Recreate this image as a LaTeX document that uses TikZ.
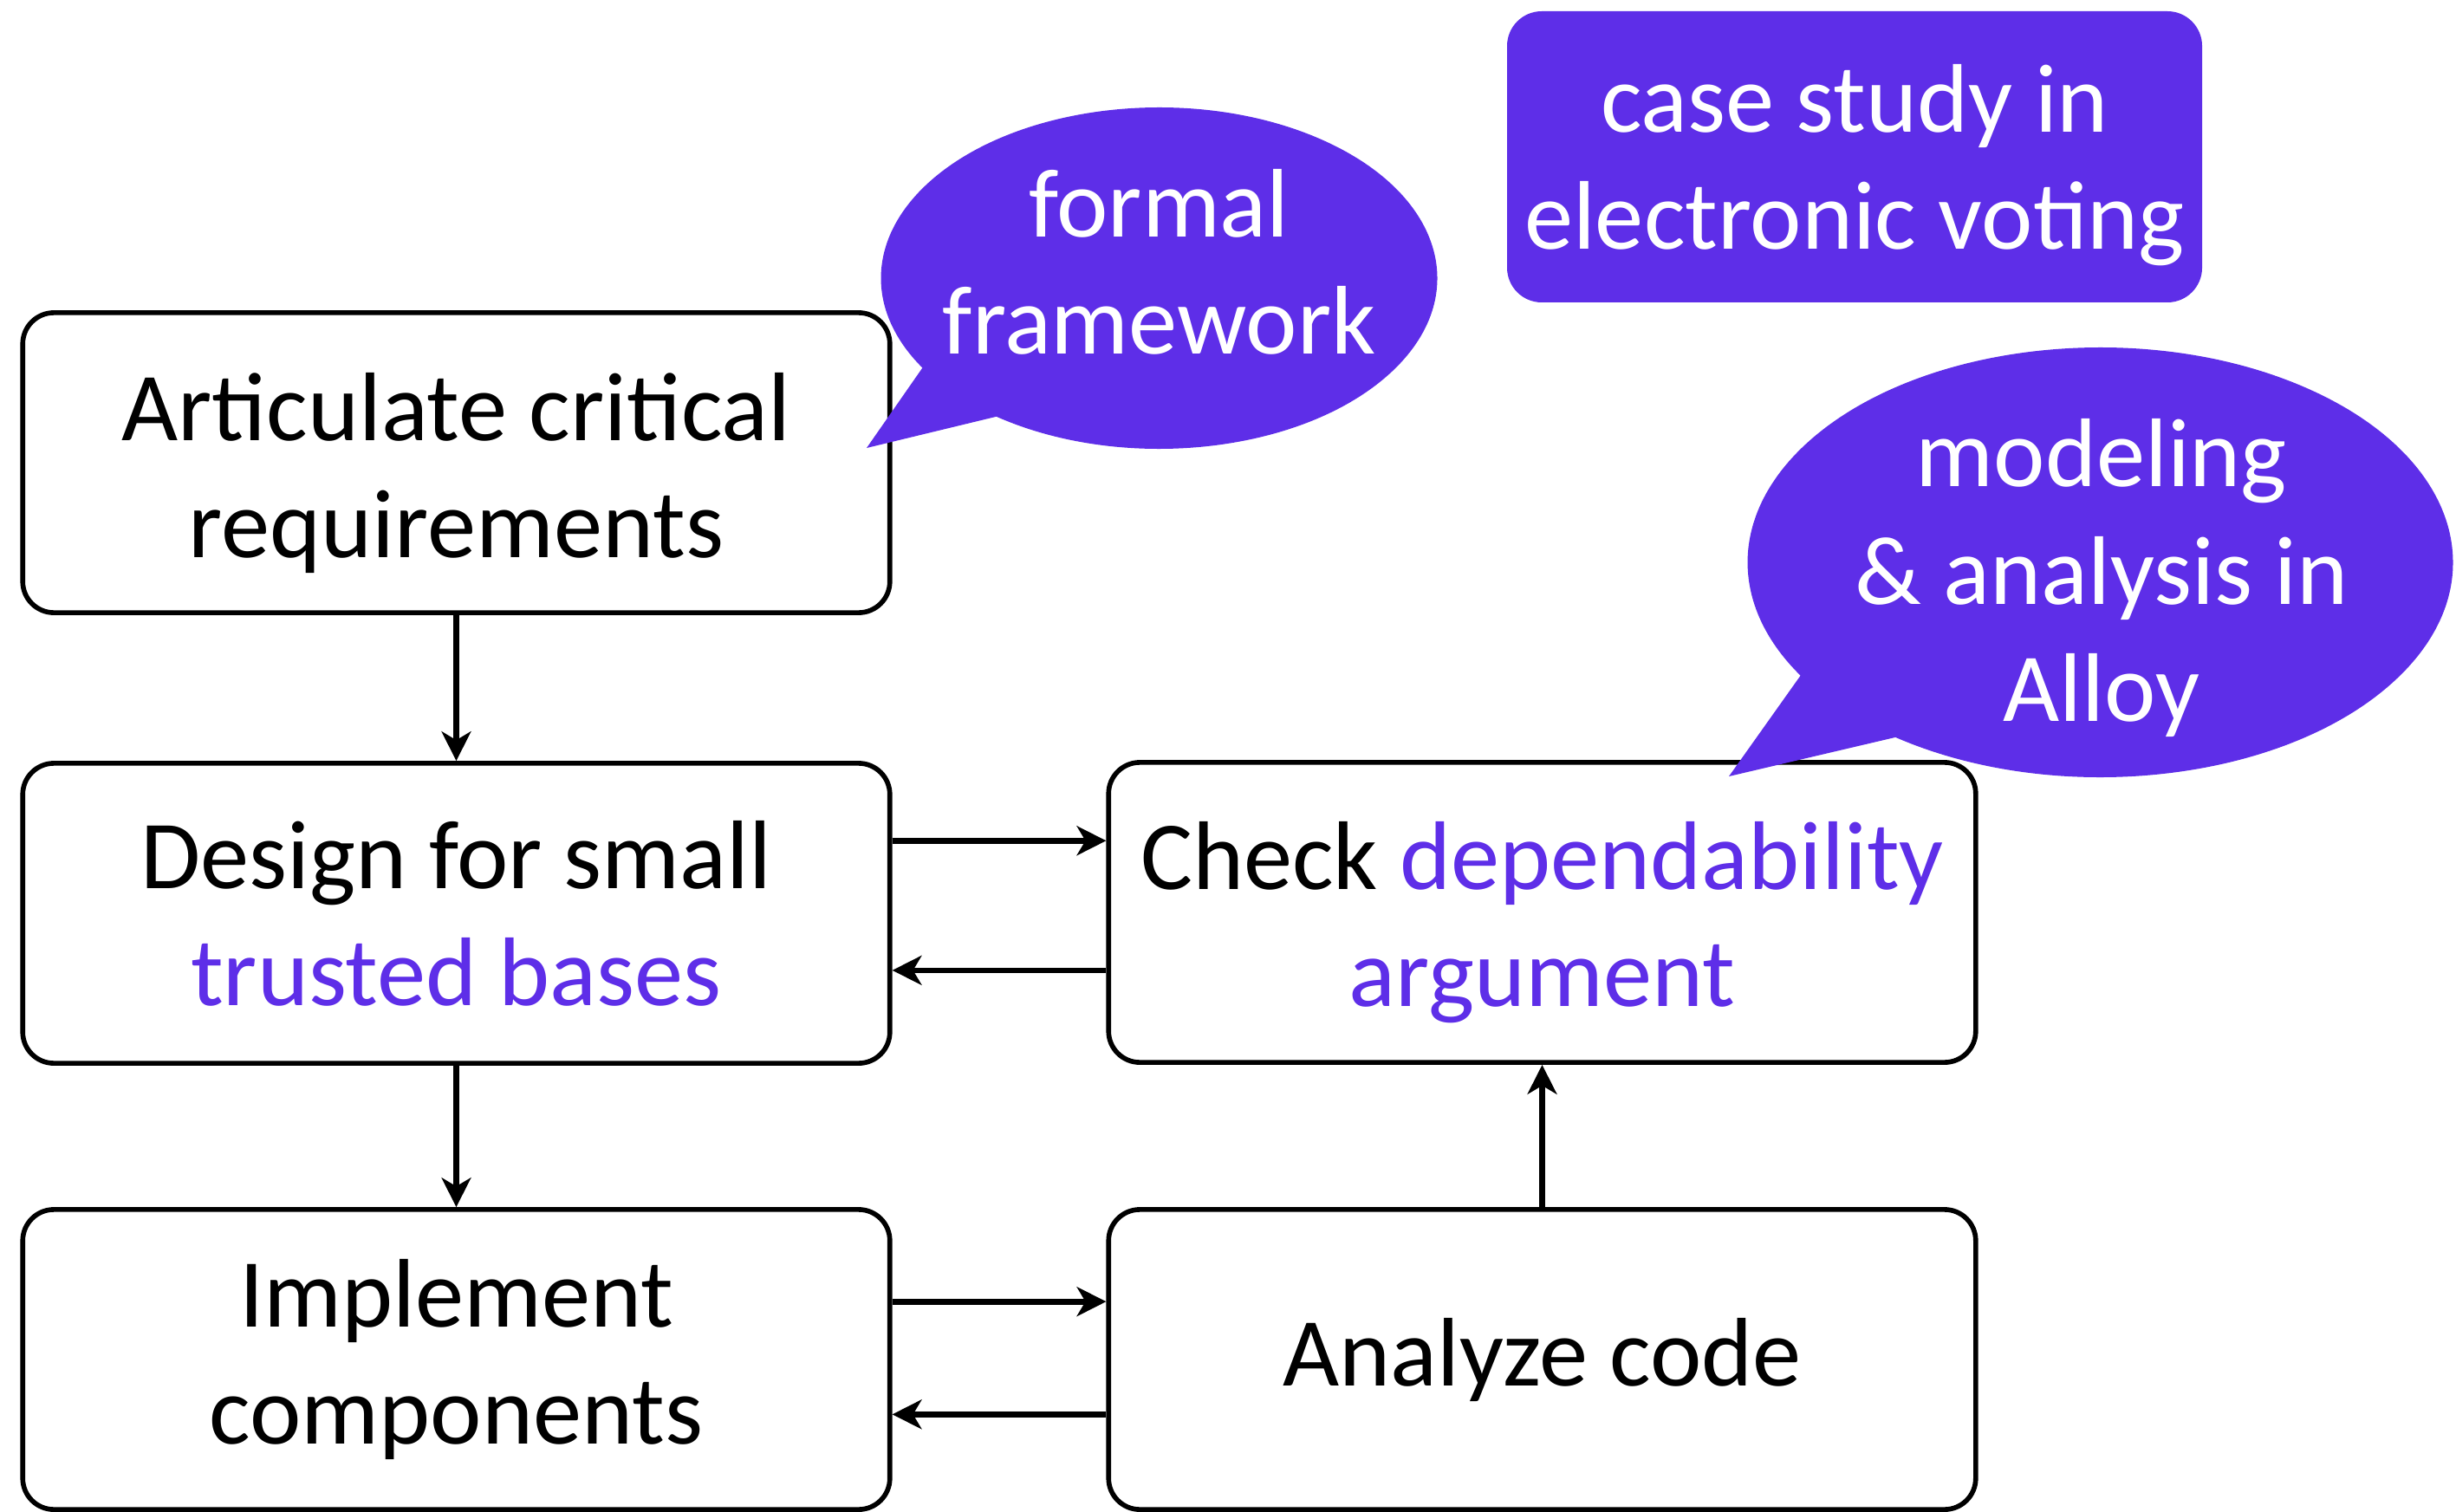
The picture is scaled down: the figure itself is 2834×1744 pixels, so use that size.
\documentclass[tikz,border=0pt]{standalone}
\usepackage{fontspec}
\setmainfont{Carlito}
\usetikzlibrary{arrows.meta,calc}
\definecolor{callout}{RGB}{94,46,232}
% extra head room on a first line, lowering the text block a little
\newcommand{\headroom}{\rule{0pt}{29pt}}

\begin{document}
\begin{tikzpicture}[x=0.01cm,y=0.01cm,
  stepbox/.style={draw=black, line width=1.6pt, rounded corners=0.36cm,
    minimum width=10.0cm, minimum height=3.46cm, inner sep=0pt,
    align=center, font=\fontsize{32}{38.4}\selectfont},
  flow/.style={line width=1.9pt, -{Stealth[length=9.6pt,width=9.6pt,inset=2.8pt]}},
  note/.style={text=white, align=center, inner sep=0pt,
    font=\fontsize{32}{38.4}\selectfont},
]
\useasboundingbox (0,0) rectangle (2834,1744);

% process steps
\node[stepbox] (A) at (526.5,1210) {\headroom Articulate critical\\requirements};
\node[stepbox] (D) at (526.5,690) {Design for small\\\textcolor{callout}{trusted bases}};
\node[stepbox] (I) at (526.5,175) {Implement\\components};
\node[stepbox] (C) at (1779.5,691) {\headroom Check \textcolor{callout}{dependability}\\\textcolor{callout}{argument}};
\node[stepbox] (Z) at (1779.5,175) {Analyze code};

% connectors
\draw[flow] (A.south) -- (D.north);
\draw[flow] (D.south) -- (I.north);
\coordinate (dc) at ($(D.north east)!0.262!(D.south east)$);
\draw[flow] (dc) -- (dc -| C.west);
\coordinate (cd) at ($(C.north west)!0.69!(C.south west)$);
\draw[flow] (cd) -- (cd -| D.east);
\coordinate (iz) at ($(I.north east)!0.31!(I.south east)$);
\draw[flow] (iz) -- (iz -| Z.west);
\coordinate (zi) at ($(Z.north west)!0.68!(Z.south west)$);
\draw[flow] (zi) -- (zi -| I.east);
\draw[flow] (Z.north) -- (C.south);

% speech bubble: formal framework
\coordinate (ffc) at (1337.5,1423);
\coordinate (fftip) at (1000,1227);
\fill[callout] (fftip) -- ($(ffc)+(234.2:321 and 197)$)
  arc[start angle=234.2, end angle=571.7, x radius=321, y radius=197] -- cycle;
\node[note] (ff) at (1337.5,1442) {formal\\framework};

% speech bubble: modeling and analysis
\coordinate (mac) at (2423.5,1095);
\coordinate (matip) at (1995,848);
\fill[callout] (matip) -- ($(mac)+(234.5:407 and 248)$)
  arc[start angle=234.5, end angle=571.8, x radius=407, y radius=248] -- cycle;
\node[note] (ma) at (2425,1077) {modeling\\\& analysis in\\Alloy};

% case study panel
\fill[callout, rounded corners=0.4cm] (1739,1395) rectangle (2541,1731);
\node[note] (cs) at (2140,1553) {case study in\\electronic voting};
\end{tikzpicture}
\end{document}
